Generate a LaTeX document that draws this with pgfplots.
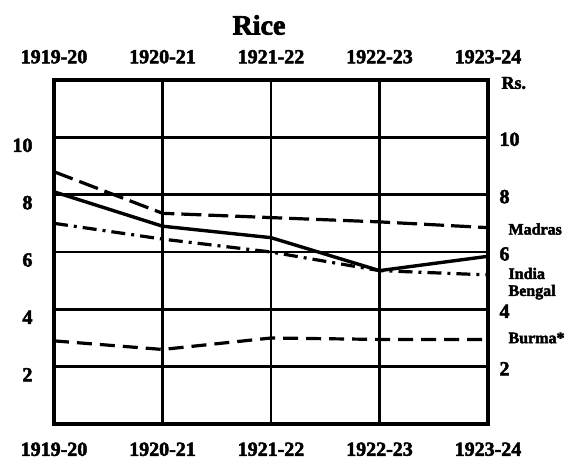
\documentclass[border=0pt]{standalone}
\usepackage{pgfplots}
\pgfplotsset{compat=1.18}
\usepackage{fontspec}
\setmainfont{Liberation Serif}[BoldFeatures={FakeBold=2.5}]
\pgfplotsset{
  base/.style={
    scale only axis, width=434pt, height=344pt,
    at={(0,0)}, anchor=south west,
    xmin=0, xmax=4, ymin=0, ymax=12,
    xtick={0,1,2,3,4},
    xticklabels={1919-20,1920-21,1921-22,1922-23,1923-24},
    ytick={2,4,6,8,10},
    major tick length=0pt,
    axis line style={line width=3.5pt},
    tick label style={font=\fontsize{20}{23}\selectfont\bfseries},
    /pgf/number format/assume math mode=true,
  }
}
\begin{document}
\begin{tikzpicture}
\path[use as bounding box] (-54pt,-44pt) rectangle (527pt,424pt);
\begin{axis}[base,
  grid=major, grid style={black, line width=2.6pt},
  xticklabel style={yshift=-15pt},
  yticklabel style={anchor=east, xshift=-18pt, yshift=-8pt},
  clip=false]
% Madras
\addplot[black, line width=3.2pt, dash pattern=on 20pt off 7pt]
  coordinates {(0,8.8) (1,7.35) (2,7.2) (3,7.05) (4,6.85)};
% India
\addplot[black, line width=3.4pt]
  coordinates {(0,8.1) (1,6.9) (2,6.5) (3,5.35) (4,5.85)};
% Bengal
\addplot[black, line width=3.2pt, dash pattern=on 14pt off 6pt on 3pt off 6pt]
  coordinates {(0,7.0) (1,6.45) (2,6.0) (3,5.35) (4,5.2)};
% Burma
\addplot[black, line width=3.2pt, dash pattern=on 15pt off 8pt]
  coordinates {(0,2.9) (1,2.6) (2,3.0) (3,2.95) (4,2.95)};
\node[anchor=west, font=\fontsize{16}{18}\selectfont\bfseries] at (axis cs:4,6.8) [xshift=17pt] {Madras};
\node[anchor=west, font=\fontsize{16}{18}\selectfont\bfseries] at (axis cs:4,5.25) [xshift=17pt] {India};
\node[anchor=west, font=\fontsize{16}{18}\selectfont\bfseries] at (axis cs:4,4.6) [xshift=17pt] {Bengal};
\node[anchor=west, font=\fontsize{16}{18}\selectfont\bfseries] at (axis cs:4,3.0) [xshift=17pt] {Burma*};
\node[anchor=west, font=\fontsize{18}{20}\selectfont\bfseries] at (axis cs:4,12) [xshift=10pt, yshift=-3pt] {Rs.};
\end{axis}
\begin{axis}[base,
  xticklabel pos=upper, yticklabel pos=right,
  xticklabel style={yshift=13pt},
  yticklabel style={anchor=west, xshift=8pt, yshift=-2pt}]
\end{axis}
\node[font=\fontsize{28}{32}\selectfont\bfseries] at (205pt,399pt) {Rice};
\end{tikzpicture}
\end{document}
